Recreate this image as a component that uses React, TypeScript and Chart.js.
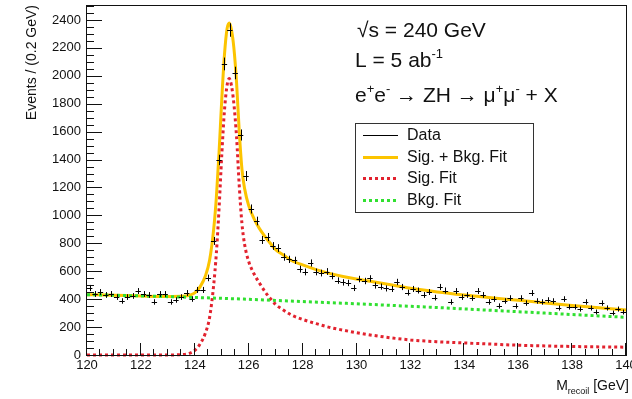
import React, { useEffect, useRef } from 'react';
import { Chart, registerables } from 'chart.js';

Chart.register(...registerables);

const FONT = '"Liberation Sans", Arial, Helvetica, sans-serif';

// Histogram bin centres (GeV) and event counts
const BIN_CENTERS = [
  120.1, 120.3, 120.5, 120.7, 120.9, 121.1, 121.3, 121.5, 121.7, 121.9,
  122.1, 122.3, 122.5, 122.7, 122.9, 123.1, 123.3, 123.5, 123.7, 123.9,
  124.1, 124.3, 124.5, 124.7, 124.9, 125.1, 125.3, 125.5, 125.7, 125.9,
  126.1, 126.3, 126.5, 126.7, 126.9, 127.1, 127.3, 127.5, 127.7, 127.9,
  128.1, 128.3, 128.5, 128.7, 128.9, 129.1, 129.3, 129.5, 129.7, 129.9,
  130.1, 130.3, 130.5, 130.7, 130.9, 131.1, 131.3, 131.5, 131.7, 131.9,
  132.1, 132.3, 132.5, 132.7, 132.9, 133.1, 133.3, 133.5, 133.7, 133.9,
  134.1, 134.3, 134.5, 134.7, 134.9, 135.1, 135.3, 135.5, 135.7, 135.9,
  136.1, 136.3, 136.5, 136.7, 136.9, 137.1, 137.3, 137.5, 137.7, 137.9,
  138.1, 138.3, 138.5, 138.7, 138.9, 139.1, 139.3, 139.5, 139.7, 139.9,
];
const COUNTS = [
  480, 437, 451, 430, 437, 415, 387, 415, 423, 458,
  437, 430, 380, 437, 437, 380, 394, 415, 444, 401,
  466, 466, 552, 817, 1397, 2085, 2328, 2020, 1576, 1282,
  1046, 960, 824, 845, 781, 766, 702, 685, 678, 615,
  595, 659, 595, 587, 598, 566, 533, 520, 516, 480,
  544, 530, 548, 498, 490, 477, 473, 523, 487, 447,
  473, 462, 430, 451, 411, 487, 462, 380, 458, 415,
  430, 408, 458, 430, 380, 401, 351, 387, 408, 351,
  408, 372, 444, 387, 380, 394, 387, 337, 401, 344,
  344, 329, 380, 337, 308, 372, 337, 301, 329, 308,
];

// Signal + background fit
const FIT_SB_MASS = [
  120, 121, 122, 123, 123.5, 123.8, 124.0, 124.2, 124.4, 124.55, 124.7, 124.8, 124.9,
  125.0, 125.1, 125.2, 125.28, 125.36, 125.45, 125.55, 125.65, 125.75, 125.85,
  126.0, 126.2, 126.4, 126.6, 126.8, 127.0, 127.3, 127.6,
  128, 128.5, 129, 129.5, 130, 131, 132, 133, 134, 135, 136, 137, 138, 139, 140,
];
const FIT_SB_VALUES = [
  432, 428, 423, 419, 420, 428, 445, 490, 570, 680, 900, 1130, 1450,
  1830, 2150, 2340, 2378, 2330, 2200, 1950, 1600, 1330, 1190,
  1070, 975, 905, 850, 800, 755, 715, 675,
  645, 612, 585, 562, 545, 512, 478, 452, 430, 410, 392, 373, 355, 338, 322,
];

// Signal fit
const FIT_SIG_MASS = [
  120, 123, 123.5, 123.8, 124.0, 124.2, 124.4, 124.55, 124.7, 124.8, 124.9,
  125.0, 125.1, 125.2, 125.28, 125.36, 125.45, 125.55, 125.65, 125.75, 125.85,
  126.0, 126.2, 126.4, 126.6, 126.8, 127.0, 127.3, 127.6,
  128, 128.5, 129, 129.5, 130, 131, 132, 133, 134, 135, 136, 137, 138, 139, 140,
];
const FIT_SIG_VALUES = [
  0, 0, 3, 12, 33, 80, 160, 270, 500, 730, 1050,
  1430, 1750, 1935, 1980, 1930, 1800, 1560, 1210, 940, 790,
  670, 580, 515, 455, 405, 362, 320, 285,
  255, 225, 198, 178, 160, 130, 108, 95, 86, 78, 70, 65, 61, 58, 56,
];

// Background fit
const FIT_BKG_MASS = [120, 121, 122, 123, 124, 125, 126, 127, 128, 129, 130, 131, 132, 133, 134, 135, 136, 137, 138, 139, 140];
const FIT_BKG_VALUES = [432, 428, 423, 418, 412, 406, 399, 391, 383, 375, 367, 358, 349, 340, 330, 320, 310, 300, 290, 280, 270];

const X_TICKS = [120, 122, 124, 126, 128, 130, 132, 134, 136, 138, 140];
const Y_TICKS = [0, 200, 400, 600, 800, 1000, 1200, 1400, 1600, 1800, 2000, 2200, 2400];
const LEGEND_LABELS = ['Data', 'Sig. + Bkg. Fit', 'Sig. Fit', 'Bkg. Fit'];

const ORANGE = '#fcc400';
const RED = '#e2222e';
const GREEN = '#30e030';

const toXY = (xs: number[], ys: number[]) => xs.map((x, i) => ({ x, y: ys[i] }));

type Part = { t: string; sup?: boolean };

function drawRich(ctx: CanvasRenderingContext2D, parts: Part[], x: number, y: number, size: number) {
  let cx = x;
  for (const p of parts) {
    if (p.sup) {
      ctx.font = `${Math.round(size * 0.62)}px ${FONT}`;
      ctx.fillText(p.t, cx, y - size * 0.42);
    } else {
      ctx.font = `${size}px ${FONT}`;
      ctx.fillText(p.t, cx, y);
    }
    cx += ctx.measureText(p.t).width;
  }
}

const decoPlugin = {
  id: 'deco',
  afterDatasetsDraw(chart: any) {
    const { ctx, scales } = chart;
    const xs = scales.x;
    const ys = scales.y;
    ctx.save();
    ctx.strokeStyle = '#000';
    ctx.lineWidth = 1;
    ctx.beginPath();
    for (let i = 0; i < COUNTS.length; i++) {
      const c = COUNTS[i];
      const m = BIN_CENTERS[i];
      const e = Math.sqrt(c);
      const px = Math.round(xs.getPixelForValue(m)) + 0.5;
      const py = Math.round(ys.getPixelForValue(c)) + 0.5;
      ctx.moveTo(xs.getPixelForValue(m - 0.1), py);
      ctx.lineTo(xs.getPixelForValue(m + 0.1), py);
      ctx.moveTo(px, ys.getPixelForValue(c + e));
      ctx.lineTo(px, ys.getPixelForValue(c - e));
    }
    ctx.stroke();
    ctx.restore();
  },
  afterDraw(chart: any) {
    const { ctx, chartArea: a, scales } = chart;
    const xs = scales.x;
    const ys = scales.y;
    ctx.save();
    // frame
    ctx.strokeStyle = '#111';
    ctx.lineWidth = 1;
    ctx.strokeRect(a.left - 0.5, a.top - 0.5, a.right - a.left + 1, a.bottom - a.top + 1);
    // y ticks
    ctx.beginPath();
    for (let k = 0; k <= 50; k++) {
      const v = k * 50;
      const py = Math.round(ys.getPixelForValue(v)) + 0.5;
      const len = k % 4 === 0 ? 15 : 7;
      ctx.moveTo(a.left, py);
      ctx.lineTo(a.left + len, py);
    }
    // x ticks
    for (let k = 0; k <= 40; k++) {
      const v = 120 + k * 0.5;
      const px = Math.round(xs.getPixelForValue(v)) - 0.5;
      const len = k % 4 === 0 ? 12 : 6;
      ctx.moveTo(px, a.bottom);
      ctx.lineTo(px, a.bottom - len);
    }
    ctx.stroke();

    ctx.fillStyle = '#111';
    // y title
    ctx.save();
    ctx.translate(36, 5);
    ctx.rotate(-Math.PI / 2);
    ctx.font = `14px ${FONT}`;
    ctx.textAlign = 'right';
    ctx.textBaseline = 'alphabetic';
    ctx.fillText('Events / (0.2 GeV)', 0, 0);
    ctx.restore();

    // x title
    ctx.textAlign = 'left';
    ctx.textBaseline = 'alphabetic';
    ctx.font = `14px ${FONT}`;
    const wM = ctx.measureText('M').width;
    const wG = ctx.measureText(' [GeV]').width;
    ctx.font = `9px ${FONT}`;
    const wR = ctx.measureText('recoil').width;
    let tx = 629 - (wM + wR + wG);
    ctx.font = `14px ${FONT}`;
    ctx.fillText('M', tx, 390);
    tx += wM;
    ctx.font = `9px ${FONT}`;
    ctx.fillText('recoil', tx, 394);
    tx += wR;
    ctx.font = `14px ${FONT}`;
    ctx.fillText(' [GeV]', tx, 390);

    // annotations
    drawRich(ctx, [{ t: '\u221As = 240 GeV' }], 357, 37, 21);
    drawRich(ctx, [{ t: 'L = 5 ab' }, { t: '-1', sup: true }], 355, 67, 21);
    drawRich(
      ctx,
      [
        { t: 'e' }, { t: '+', sup: true }, { t: 'e' }, { t: '-', sup: true },
        { t: ' \u2192 ZH \u2192 \u03BC' }, { t: '+', sup: true }, { t: '\u03BC' }, { t: '-', sup: true },
        { t: ' + X' },
      ],
      355, 102, 21,
    );

    // legend
    const lx = 355, ly = 123, lw = 178, lh = 89;
    ctx.fillStyle = '#fff';
    ctx.fillRect(lx, ly, lw, lh);
    ctx.strokeStyle = '#333';
    ctx.lineWidth = 1;
    ctx.strokeRect(lx + 0.5, ly + 0.5, lw, lh);
    const rows = [135, 157, 178, 200];
    const styles = [
      { c: '#000', w: 1, d: [] as number[] },
      { c: ORANGE, w: 3, d: [] as number[] },
      { c: RED, w: 3, d: [3, 3] },
      { c: GREEN, w: 3, d: [3, 3] },
    ];
    for (let i = 0; i < 4; i++) {
      const s = styles[i];
      ctx.strokeStyle = s.c;
      ctx.lineWidth = s.w;
      ctx.setLineDash(s.d);
      ctx.beginPath();
      ctx.moveTo(363, rows[i] + 0.5);
      ctx.lineTo(398, rows[i] + 0.5);
      ctx.stroke();
      ctx.setLineDash([]);
      ctx.fillStyle = '#111';
      ctx.font = `16px ${FONT}`;
      ctx.textBaseline = 'middle';
      ctx.textAlign = 'left';
      ctx.fillText(LEGEND_LABELS[i], 407, rows[i] + 1);
    }
    ctx.restore();
  },
};

export default function App() {
  const ref = useRef<HTMLCanvasElement | null>(null);
  useEffect(() => {
    if (!ref.current) return;
    const chart = new Chart(ref.current, {
      type: 'scatter',
      data: {
        datasets: [
          {
            label: 'Data',
            data: toXY(BIN_CENTERS, COUNTS),
            showLine: false,
            pointRadius: 0,
            order: 0,
          },
          {
            label: 'Bkg. Fit',
            data: toXY(FIT_BKG_MASS, FIT_BKG_VALUES),
            showLine: true,
            borderColor: GREEN,
            borderWidth: 3,
            borderDash: [3, 3],
            pointRadius: 0,
            cubicInterpolationMode: 'monotone',
            clip: 4,
            order: 1,
          },
          {
            label: 'Sig. Fit',
            data: toXY(FIT_SIG_MASS, FIT_SIG_VALUES),
            showLine: true,
            borderColor: RED,
            borderWidth: 3,
            borderDash: [3, 3],
            pointRadius: 0,
            cubicInterpolationMode: 'monotone',
            clip: 4,
            order: 2,
          },
          {
            label: 'Sig. + Bkg. Fit',
            data: toXY(FIT_SB_MASS, FIT_SB_VALUES),
            showLine: true,
            borderColor: ORANGE,
            borderWidth: 3,
            pointRadius: 0,
            cubicInterpolationMode: 'monotone',
            clip: 4,
            order: 3,
          },
        ] as any,
      },
      options: {
        animation: false,
        responsive: false,
        devicePixelRatio: 1,
        layout: { padding: { left: 0, top: 6, right: 6, bottom: 0 } },
        plugins: { legend: { display: false }, tooltip: { enabled: false } },
        events: [],
        scales: {
          x: {
            type: 'linear',
            min: 120,
            max: 140,
            afterBuildTicks: (s: any) => { s.ticks = X_TICKS.map((v) => ({ value: v })); },
            afterFit: (s: any) => { s.height = 44; s.paddingLeft = 0; s.paddingRight = 0; },
            ticks: {
              autoSkip: false, maxRotation: 0, padding: 3, color: '#111',
              font: { family: FONT, size: 13 },
              callback: (v: any) => String(v),
            },
            grid: { display: false, drawTicks: false },
            border: { display: false },
          },
          y: {
            type: 'linear',
            min: 0,
            max: 2500,
            afterBuildTicks: (s: any) => { s.ticks = Y_TICKS.map((v) => ({ value: v })); },
            afterFit: (s: any) => { s.width = 87; s.paddingTop = 0; s.paddingBottom = 0; },
            ticks: {
              autoSkip: false, padding: 6, color: '#111',
              font: { family: FONT, size: 13 },
              callback: (v: any) => String(v),
            },
            grid: { display: false, drawTicks: false },
            border: { display: false },
          },
        },
      } as any,
      plugins: [decoPlugin],
    });
    return () => chart.destroy();
  }, []);
  return (
    <div style={{ position: 'absolute', left: 0, top: 0, width: 632, height: 399, background: '#fff' }}>
      <canvas ref={ref} width={632} height={399} style={{ display: 'block' }} />
    </div>
  );
}
